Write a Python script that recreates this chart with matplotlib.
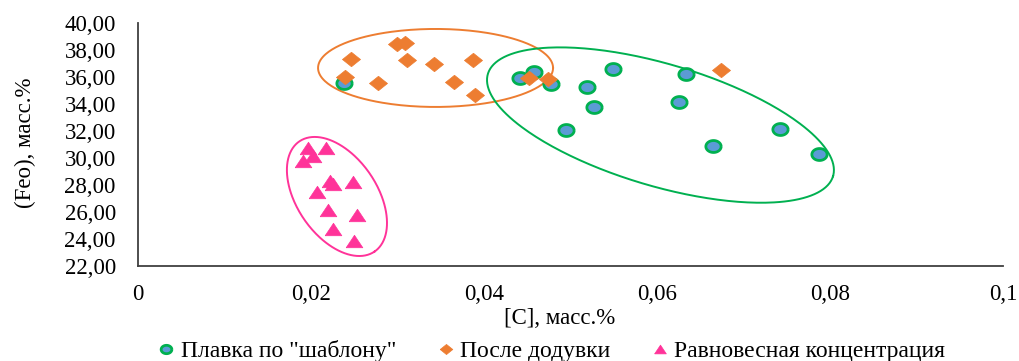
import numpy as np
import matplotlib
matplotlib.use("Agg")
import matplotlib.pyplot as plt
from matplotlib.path import Path

plt.rcParams["font.family"] = ["Liberation Serif", "DejaVu Serif"]

# плавка по "шаблону"
c_template = [0.0238, 0.0442, 0.0458, 0.0477, 0.0519, 0.0549, 0.0527, 0.0495,
              0.0634, 0.0625, 0.0742, 0.0665, 0.0787]
feo_template = [35.56, 35.93, 36.37, 35.48, 35.26, 36.59, 33.78, 32.07,
                36.22, 34.15, 32.15, 30.89, 30.30]

# после додувки
c_blow = [0.0246, 0.0299, 0.0309, 0.0311, 0.0342, 0.0387, 0.0239, 0.0277,
          0.0365, 0.0390, 0.0452, 0.0474, 0.0674]
feo_blow = [37.33, 38.44, 38.52, 37.26, 36.96, 37.26, 36.00, 35.56,
            35.63, 34.67, 35.93, 35.85, 36.52]

# равновесная концентрация
c_eq = [0.0197, 0.0217, 0.0202, 0.0191, 0.0222, 0.0225, 0.0249, 0.0207,
        0.0220, 0.0253, 0.0225, 0.0250]
feo_eq = [30.74, 30.74, 30.15, 29.78, 28.30, 28.07, 28.22, 27.48,
          26.15, 25.78, 24.74, 23.85]

x_ticks = [0, 0.02, 0.04, 0.06, 0.08, 0.1]
x_labels = ["0", "0,02", "0,04", "0,06", "0,08", "0,1"]
y_ticks = [22, 24, 26, 28, 30, 32, 34, 36, 38, 40]
y_labels = ["%.2f" % v for v in y_ticks]
y_labels = [s.replace(".", ",") for s in y_labels]

# группы: центр (x, y), полуоси в пикселях, наклон (по часовой)
groups = [
    ((0.0344, 36.67), 117.5, 39, 0.0, "#ED7D31"),
    ((0.0604, 32.44), 180, 61, 16.5, "#00B050"),
    ((0.0230, 27.15), 66.7, 40, 55.7, "#FF3399"),
]

W, H = 1020, 361
L, R, B, T = 138, 1003, 266, 23

fig = plt.figure(figsize=(W / 100, H / 100), dpi=100)
ax = fig.add_axes([L / W, 1 - B / H, (R - L) / W, (B - T) / H])
ax.set_xlim(0, 0.1)
ax.set_ylim(22, 40)

kx = (R - L) / 0.1
ky = (B - T) / 18.0


def squashed(verts):
    return Path(np.array(verts))


t = np.linspace(0, 2 * np.pi, 60)
circ = squashed(np.c_[np.cos(t), 0.78 * np.sin(t)])
diam = squashed([(-1, 0), (0, 0.8), (1, 0), (0, -0.8), (-1, 0)])
tri = squashed([(-1, -0.75), (0, 0.75), (1, -0.75), (-1, -0.75)])

ax.plot(c_template, feo_template, ls="none", marker=circ, ms=11,
        mfc="#5B9BD5", mec="#00B050", mew=2.0, zorder=3,
        label='Плавка по "шаблону"')
ax.plot(c_blow, feo_blow, ls="none", marker=diam, ms=13,
        mfc="#ED7D31", mec="#ED7D31", mew=0.5, zorder=4,
        label="После додувки")
ax.plot(c_eq, feo_eq, ls="none", marker=tri, ms=12,
        mfc="#FF3399", mec="#FF3399", mew=0.5, zorder=4,
        label="Равновесная концентрация")

for (cx, cy), a, b, ang, col in groups:
    th = np.radians(ang)
    s = np.linspace(0, 2 * np.pi, 300)
    dx = a * np.cos(s) * np.cos(th) - b * np.sin(s) * np.sin(th)
    dy = -(a * np.cos(s) * np.sin(th) + b * np.sin(s) * np.cos(th))
    ax.plot(cx + dx / kx, cy + dy / ky, color=col, lw=1.4, zorder=2)

ax.set_xticks(x_ticks)
ax.set_xticklabels(x_labels)
ax.set_yticks(y_ticks)
ax.set_yticklabels(y_labels)
ax.tick_params(length=0, labelsize=16.5, colors="#000000")
ax.tick_params(axis="y", pad=16)
ax.tick_params(axis="x", pad=13)

for side in ["top", "right"]:
    ax.spines[side].set_visible(False)
for side in ["left", "bottom"]:
    ax.spines[side].set_color("#404040")
    ax.spines[side].set_linewidth(1.3)

fig.text(560 / W, 1 - 318 / H, "[C], масс.%", ha="center", va="center", fontsize=16.5)
fig.text(25 / W, 1 - 143 / H, "(Feo), масс.%", ha="center", va="center",
         rotation=90, fontsize=16.5)

fig.legend(loc="center", bbox_to_anchor=(552 / W, 1 - 351 / H), ncol=3,
           frameon=False, fontsize=17, markerscale=0.7, handlelength=0.6,
           handletextpad=0.3, columnspacing=1.8, borderaxespad=0)

fig.savefig("out.png", dpi=100)
